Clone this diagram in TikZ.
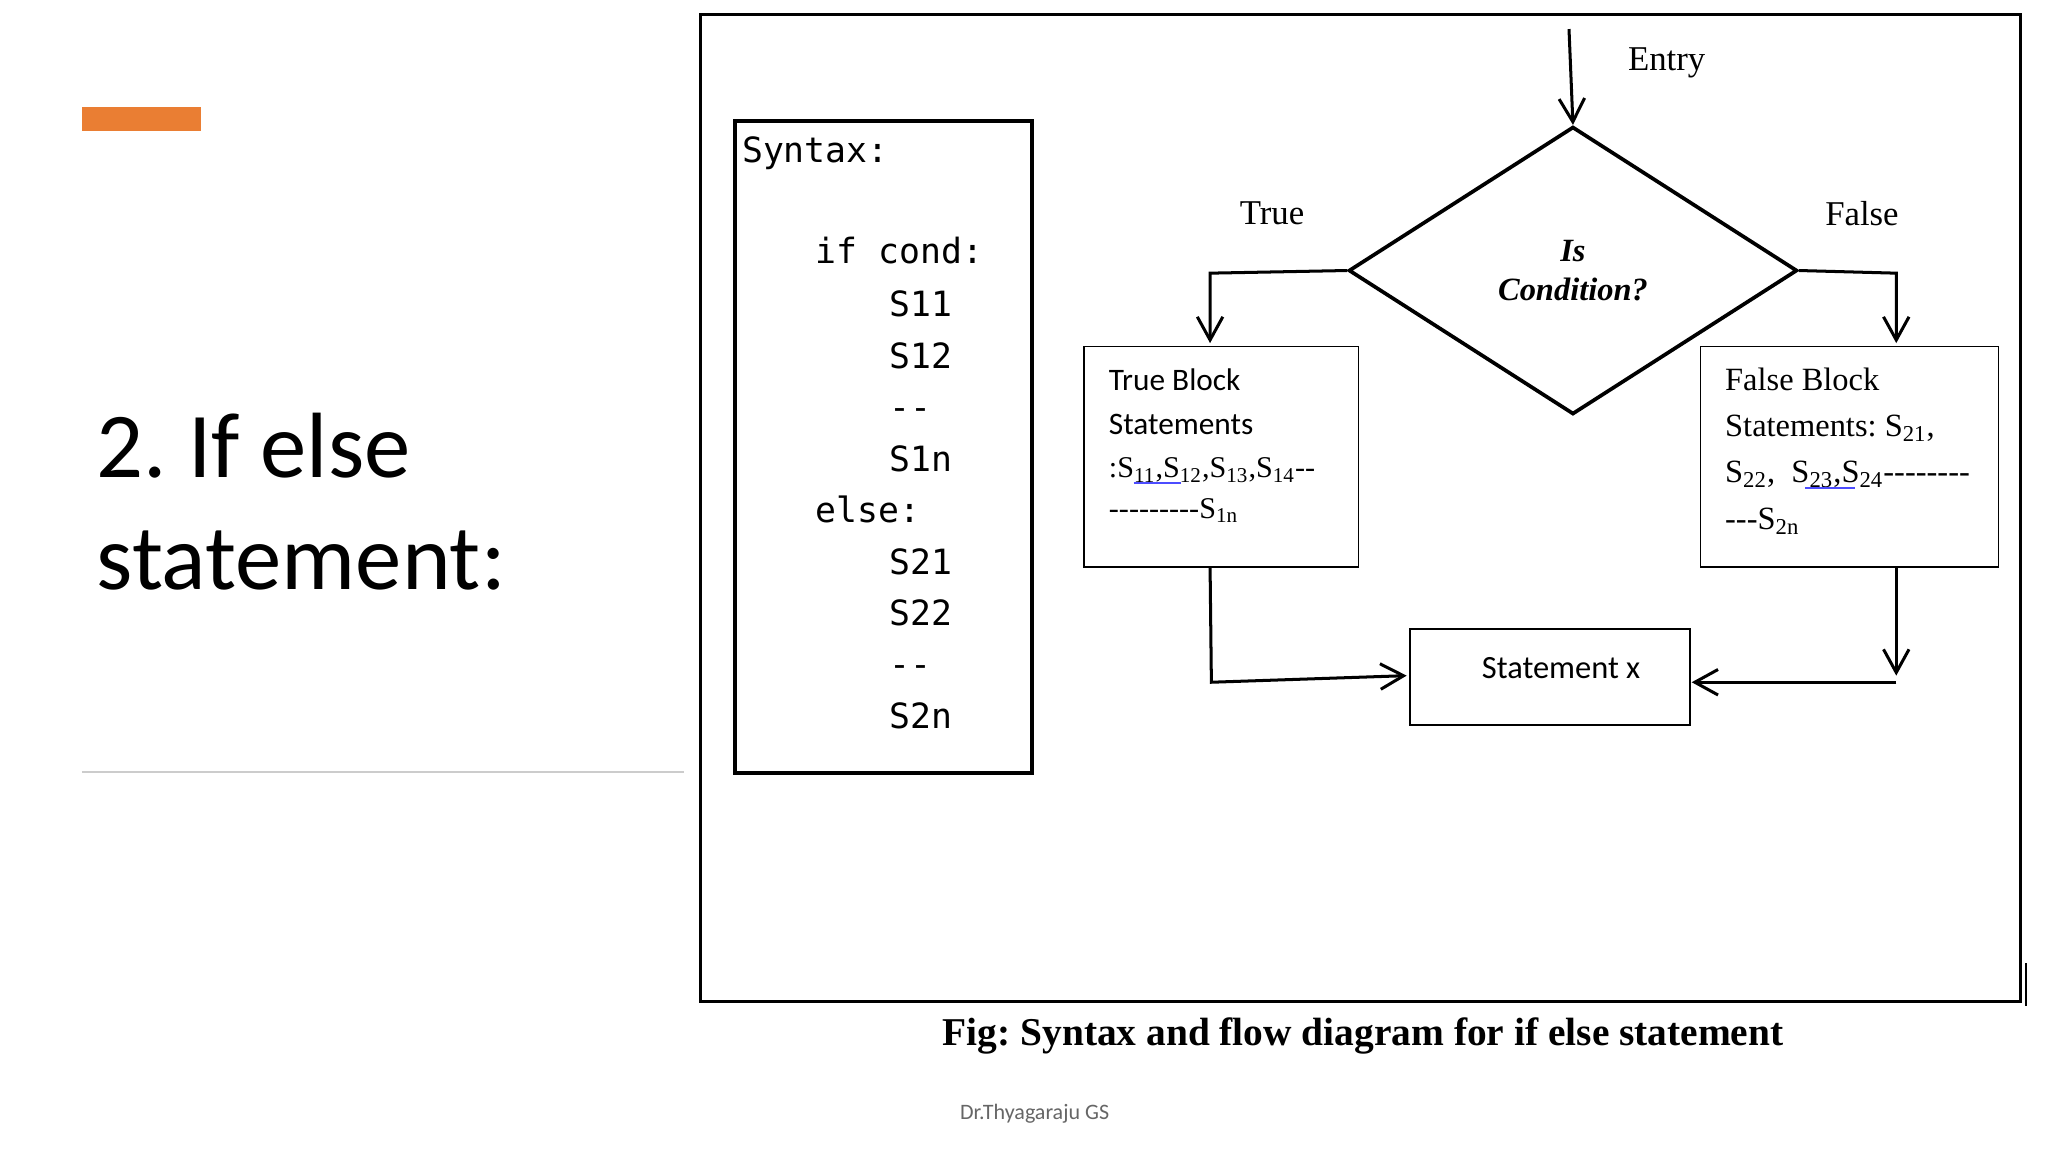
\documentclass[tikz,border=0pt]{standalone}
\usepackage{fontspec}
\setmainfont{Liberation Serif}[Ligatures=NoCommon]
\newfontfamily\calfont{Carlito}
\newfontfamily\monofont{DejaVu Sans Mono}
\usetikzlibrary{shapes.geometric,arrows.meta}
\frenchspacing
\newcommand{\dsh}[1]{\foreach \i in {1,...,#1}{-\kern0pt}}
\begin{document}
\frenchspacing
\begin{tikzpicture}[x=0.02cm,y=-0.02cm,
  ln/.style={line width=1.3pt},
  arr/.style={ln,-{Straight Barb[length=10pt,width=11pt,line width=1.3pt]}},
  box/.style={draw,line width=0.7pt,anchor=north west,inner sep=0},
  code/.style={anchor=base west,font=\monofont\fontsize{15}{16}\selectfont,inner sep=0},
  blk/.style={anchor=base west,inner sep=0},
  ser/.style={font=\fontsize{15}{17}\selectfont}]
\useasboundingbox (0,0) rectangle (1552,873);
\fill[fill=white] (0,0) rectangle (1552,873);
\fill[fill={rgb,255:red,234;green,126;blue,51}] (62,81) rectangle (152,99);
\draw[line width=1pt,gray!40] (62,585) -- (518,585);
\node[anchor=base west,inner sep=0,font=\calfont\fontsize{40}{44}\selectfont] (t1) at (73,362) {2. If else};
\node[anchor=base west,inner sep=0,font=\calfont\fontsize{40}{44}\selectfont] (t2) at (73,447) {statement:};
\draw[line width=1.3pt] (531,11) rectangle (1531,759);
\draw[line width=0.8pt] (1535,730) -- (1535,762);
\draw[line width=1.8pt] (557,92) rectangle (782,586);
\node[code] (c0) at (562,123) {Syntax:};
\node[code] (c1) at (618,200) {if cond:};
\node[code] (c2) at (674,240) {S11};
\node[code] (c3) at (674,279) {S12};
\node[code] (c4) at (674,318) {-\kern0pt-};
\node[code] (c5) at (674,357) {S1n};
\node[code] (c6) at (618,396) {else:};
\node[code] (c7) at (674,435) {S21};
\node[code] (c8) at (674,474) {S22};
\node[code] (c9) at (674,513) {-\kern0pt-};
\node[code] (c10) at (674,552) {S2n};
% flowchart
\node[draw,diamond,line width=1.6pt,inner sep=0,minimum width=6.8cm,minimum height=4.36cm,
  align=center,font=\bfseries\itshape\fontsize{14}{17}\selectfont] (d) at (1192,205) {Is\\Condition?};
\coordinate (e) at (1189,22);
\draw[arr] (e) -- (d.north);
\node[ser] (entry) at (1263,48) {Entry};
\node[ser] (tr) at (964,162) {True};
\node[ser] (fa) at (1411,162) {False};
\node[box,minimum width=4.16cm,minimum height=3.34cm] (tb) at (821,262) {};
\node[box,minimum width=4.52cm,minimum height=3.34cm] (fb) at (1288,262) {};
\node[box,minimum width=4.24cm,minimum height=1.46cm] (sx) at (1068,476) {};
\node[font=\calfont\fontsize{14}{16}\selectfont] (sxt) at (1183,506) {Statement x};
\node[blk,font=\calfont\fontsize{13.5}{16}\selectfont] (tb1) at (840,296) {True Block};
\node[blk,font=\calfont\fontsize{13.5}{16}\selectfont] (tb2) at (840,329) {Statements};
\node[blk,font=\fontsize{13}{16}\selectfont] (tb3) at (840,362) {:S\textsubscript{11},S\textsubscript{12},S\textsubscript{13},S\textsubscript{14}\dsh{2}};
\node[blk,font=\fontsize{13}{16}\selectfont] (tb4) at (840,393) {\dsh{9}S\textsubscript{1n}};
\node[blk,font=\fontsize{14}{16}\selectfont] (fb1) at (1307,296) {False Block};
\node[blk,font=\fontsize{14}{16}\selectfont] (fb2) at (1307,331) {Statements: S\textsubscript{21},};
\node[blk,font=\fontsize{14}{16}\selectfont] (fb3) at (1307,366) {S\textsubscript{22}, \ S\textsubscript{23},S\textsubscript{24}\dsh{8}};
\node[blk,font=\fontsize{14}{16}\selectfont] (fb4) at (1307,401) {\dsh{3}S\textsubscript{2n}};
\draw[blue!70,line width=1pt] (859,366) -- (895,366) (1368,370) -- (1406,370);
\draw[arr] (d.west) -- (917,207) -- (917,260);
\draw[arr] (d.east) -- (1437,207) -- (1437,260);
\coordinate (tl) at (918,517);
\coordinate (fr) at (1437,512);
\coordinate (fj) at (1437,517);
\draw[arr] (917,429) -- (tl) -- (1066,512);
\draw[arr] (1437,429) -- (fr);
\draw[arr] (fj) -- (1282,517);
\node[anchor=base,font=\bfseries\fontsize{17}{20}\selectfont] (cap) at (1033,792) {Fig: Syntax and flow diagram for if else statement};
\node[anchor=base,text=gray!80!black,font=\calfont\fontsize{9.5}{11}\selectfont] (ft) at (784,848) {Dr.Thyagaraju GS};
\end{tikzpicture}
\end{document}
